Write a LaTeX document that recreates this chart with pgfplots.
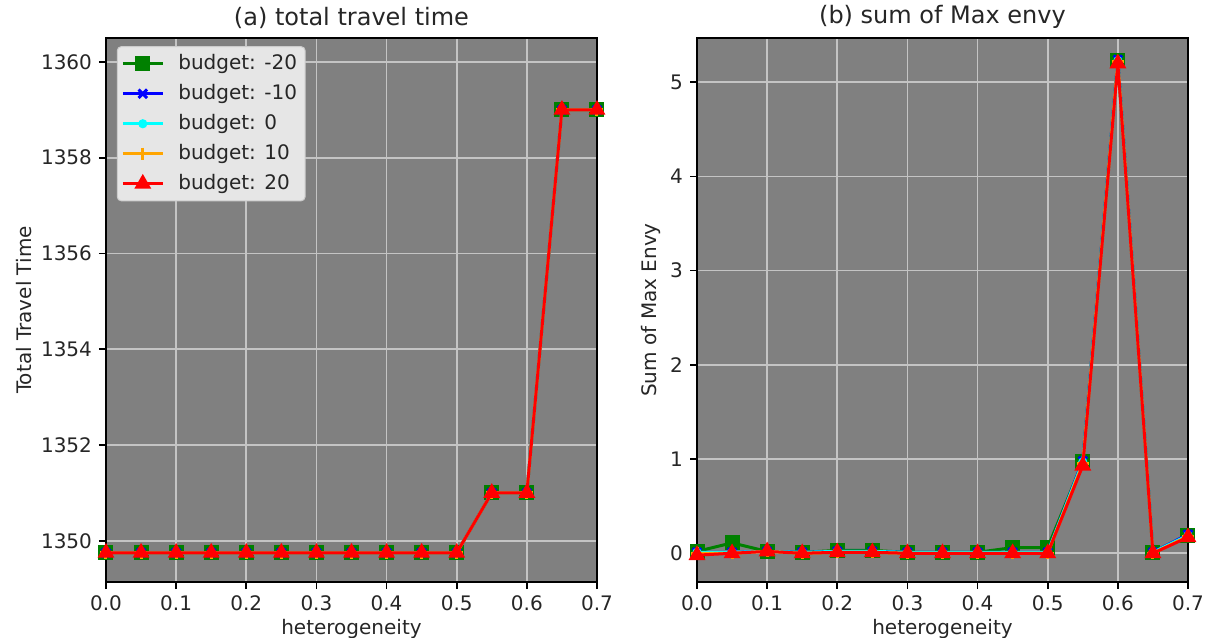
\documentclass[border=0pt]{standalone}
\usepackage{fontspec}
\setmainfont{DejaVu Sans}
\usepackage{pgfplots}
\usepackage{pgfplotstable}
\pgfplotsset{compat=1.18}

\definecolor{mplgreen}{RGB}{0,128,0}
\definecolor{mplorange}{RGB}{255,165,0}
\definecolor{mplcyan}{RGB}{0,255,255}
\definecolor{mplblue}{RGB}{0,0,255}
\definecolor{mplred}{RGB}{255,0,0}
\definecolor{bggray}{RGB}{128,128,128}
\definecolor{gridc}{RGB}{196,196,196}
\definecolor{legfill}{RGB}{230,230,230}
\definecolor{legedge}{RGB}{204,204,204}

\pgfplotstableread{
x    m20      m10      z0       p10      p20
0.00 1349.75  1349.75  1349.75  1349.75  1349.75
0.05 1349.75  1349.75  1349.75  1349.75  1349.75
0.10 1349.75  1349.75  1349.75  1349.75  1349.75
0.15 1349.75  1349.75  1349.75  1349.75  1349.75
0.20 1349.75  1349.75  1349.75  1349.75  1349.75
0.25 1349.75  1349.75  1349.75  1349.75  1349.75
0.30 1349.75  1349.75  1349.75  1349.75  1349.75
0.35 1349.75  1349.75  1349.75  1349.75  1349.75
0.40 1349.75  1349.75  1349.75  1349.75  1349.75
0.45 1349.75  1349.75  1349.75  1349.75  1349.75
0.50 1349.75  1349.75  1349.75  1349.75  1349.75
0.55 1351.00  1351.00  1351.00  1351.00  1351.00
0.60 1351.00  1351.00  1351.00  1351.00  1351.00
0.65 1359.00  1359.00  1359.00  1359.00  1359.00
0.70 1359.00  1359.00  1359.00  1359.00  1359.00
}\ttt

\pgfplotstableread{
x    m20    m10    z0     p10    p20
0.00 0.02   0.01   0.01   0.00   -0.02
0.05 0.11   0.01   0.01   0.00   0.00
0.10 0.02   0.02   0.02   0.02   0.02
0.15 0.01   0.01   0.01   0.00   0.00
0.20 0.03   0.02   0.02   0.01   0.01
0.25 0.03   0.02   0.02   0.01   0.01
0.30 0.01   0.01   0.01   0.00   0.00
0.35 0.01   0.01   0.01   0.00   0.00
0.40 0.01   0.01   0.01   0.00   0.00
0.45 0.06   0.01   0.01   0.00   0.00
0.50 0.06   0.01   0.01   0.00   0.00
0.55 0.97   0.98   0.97   0.95   0.93
0.60 5.23   5.24   5.23   5.22   5.20
0.65 0.01   0.01   0.01   0.00   0.00
0.70 0.19   0.20   0.19   0.18   0.17
}\envy

\pgfplotsset{
  mystyle/.style={
    scale only axis,
    width=245.5pt, height=272pt,
    xmin=0, xmax=0.7,
    xtick={0,0.1,0.2,0.3,0.4,0.5,0.6,0.7},
    xticklabel style={/pgf/number format/.cd, fixed, fixed zerofill, precision=1},
    /pgf/number format/assume math mode=true,
    /pgf/number format/1000 sep={},
    tick align=outside,
    xtick pos=left, ytick pos=left,
    major tick length=3.5pt,
    tick style={black, line width=0.8pt},
    axis line style={black, line width=0.8pt},
    axis background/.style={fill=bggray},
    grid=major,
    major grid style={gridc, line width=0.8pt},
    ticklabel style={font=\fontsize{10}{12}\selectfont, text=black!85},
    label style={font=\fontsize{10}{12}\selectfont, text=black!85},
    title style={font=\fontsize{12}{14}\selectfont, text=black!85, yshift=-5pt},
    xlabel={heterogeneity},
    xlabel style={yshift=3pt},
    clip mode=individual,
    every axis plot/.append style={line width=1.5pt},
    legend image code/.code={\draw[mark repeat=2,mark phase=2] plot coordinates {(0pt,0pt) (10pt,0pt) (20pt,0pt)}; \path (25pt,0pt);},
  },
  s1/.style={color=mplgreen, mark=square*, mark size=3pt, mark options={solid}},
  s2/.style={color=mplblue, mark=x, mark size=3pt, mark options={solid}},
  s3/.style={color=mplcyan, mark=*, mark size=1.5pt, mark options={solid}},
  s4/.style={color=mplorange, mark=+, mark size=3pt, mark options={solid}},
  s5/.style={color=mplred, mark=triangle*, mark size=3.4pt, mark options={solid}},
}

\begin{document}
\begin{tikzpicture}
\path[use as bounding box] (0,0) rectangle (603.5pt,319pt);

\begin{axis}[mystyle,
  at={(53pt,28pt)}, anchor=south west,
  ymin=1349.14, ymax=1360.5,
  ytick={1350,1352,1354,1356,1358,1360},
  title={(a) total travel time},
  ylabel={Total Travel Time},
  ylabel style={yshift=-2pt},
  legend style={at={(0.022,0.985)}, anchor=north west, fill=legfill, draw=legedge,
    rounded corners=2pt, font=\fontsize{10}{12}\selectfont, text=black!85,
    row sep=1.9pt, inner xsep=2pt, inner ysep=2pt, line width=0.5pt},
  legend cell align=left,
]
\addplot[s1] table[x=x,y=m20] {\ttt}; \addlegendentry{budget: -20}
\addplot[s2] table[x=x,y=m10] {\ttt}; \addlegendentry{budget: -10}
\addplot[s3] table[x=x,y=z0] {\ttt}; \addlegendentry{budget: 0}
\addplot[s4] table[x=x,y=p10] {\ttt}; \addlegendentry{budget: 10}
\addplot[s5] table[x=x,y=p20] {\ttt}; \addlegendentry{budget: 20}
\end{axis}

\begin{axis}[mystyle,
  at={(348.5pt,28pt)}, anchor=south west,
  ymin=-0.305, ymax=5.47,
  ytick={0,1,2,3,4,5},
  title={(b) sum of Max envy},
  ylabel={Sum of Max Envy},
  ylabel style={yshift=-2pt},
]
\addplot[s1] table[x=x,y=m20] {\envy};
\addplot[s2] table[x=x,y=m10] {\envy};
\addplot[s3] table[x=x,y=z0] {\envy};
\addplot[s4] table[x=x,y=p10] {\envy};
\addplot[s5] table[x=x,y=p20] {\envy};
\end{axis}
\end{tikzpicture}
\end{document}
